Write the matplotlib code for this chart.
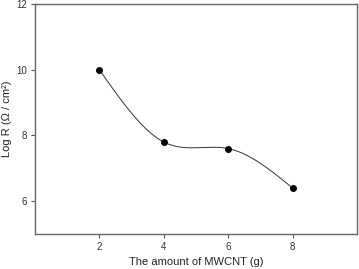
import numpy as np
import matplotlib
matplotlib.use("Agg")
import matplotlib.pyplot as plt

plt.rcParams['font.family'] = ['Liberation Sans', 'DejaVu Sans']

amount = [2, 4, 6, 8]
log_r = [10.0, 7.8, 7.6, 6.4]
x_ticks = [2, 4, 6, 8]
y_ticks = [6, 8, 10, 12]


def natural_spline(x, y, n=200):
    x = np.asarray(x, float); y = np.asarray(y, float)
    k = len(x)
    h = np.diff(x)
    A = np.zeros((k, k)); b = np.zeros(k)
    A[0, 0] = A[-1, -1] = 1
    for i in range(1, k - 1):
        A[i, i - 1] = h[i - 1]
        A[i, i] = 2 * (h[i - 1] + h[i])
        A[i, i + 1] = h[i]
        b[i] = 3 * ((y[i + 1] - y[i]) / h[i] - (y[i] - y[i - 1]) / h[i - 1])
    c = np.linalg.solve(A, b)
    xs = np.linspace(x[0], x[-1], n)
    ys = np.empty_like(xs)
    for j, xv in enumerate(xs):
        i = min(np.searchsorted(x, xv, side='right') - 1, k - 2)
        dx = xv - x[i]
        bi = (y[i + 1] - y[i]) / h[i] - h[i] * (2 * c[i] + c[i + 1]) / 3
        di = (c[i + 1] - c[i]) / (3 * h[i])
        ys[j] = y[i] + bi * dx + c[i] * dx ** 2 + di * dx ** 3
    return xs, ys


fig = plt.figure(figsize=(3.59, 2.69), dpi=100)
ax = fig.add_axes([35 / 359, 1 - 234 / 269, (357 - 35) / 359, (234 - 4) / 269])

xs, ys = natural_spline(amount, log_r)
ax.plot(xs, ys, color='#333333', lw=0.7)
ax.plot(amount, log_r, 'o', color='black', ms=4)

ax.set_xlim(0, 10)
ax.set_ylim(5, 12)
ax.set_xticks(x_ticks)
ax.set_yticks(y_ticks)
ax.tick_params(direction='out', length=3, width=0.8, colors='#555555', labelsize=7,
               labelcolor='#333333', pad=3)
for s in ax.spines.values():
    s.set_color('#666666')
    s.set_linewidth(1.0)

ax.set_xlabel('The amount of MWCNT (g)', fontsize=8, color='#222222')
ax.set_ylabel('Log R (Ω / cm²)', fontsize=8, color='#222222')
ax.xaxis.set_label_coords(0.5, (234 - 257) / 230)
ax.yaxis.set_label_coords((12 - 35) / 322, 0.5)

fig.savefig('out.png', dpi=100)
